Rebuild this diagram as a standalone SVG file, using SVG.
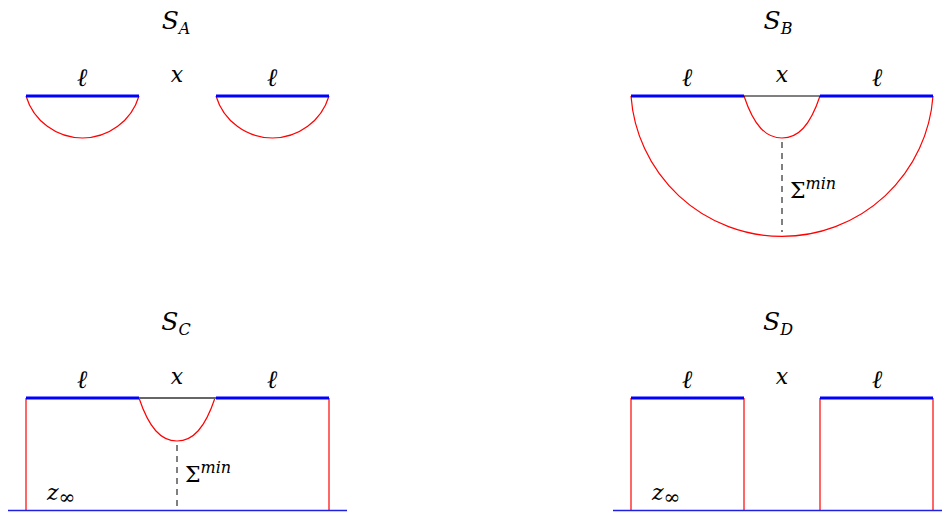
<svg xmlns="http://www.w3.org/2000/svg" width="942" height="512" viewBox="0 0 942 512">
<style>
.t{font-family:"DejaVu Serif","Liberation Serif",serif;font-style:italic;font-size:22px;fill:#000;text-anchor:middle}
.S{font-size:25px}
.s{font-size:16px}
.l{font-size:25px}
.u{font-style:normal}
.b{stroke:#0000ff;stroke-width:3;fill:none}
.r{stroke:#ff0000;stroke-width:1.2;fill:none}
.k{stroke:#000;stroke-width:1;fill:none}
.g{stroke:#666;stroke-width:2;fill:none}
.d{stroke:#000;stroke-width:1;stroke-dasharray:6,5;fill:none}
.bl{stroke:#2020e0;stroke-width:1.4;fill:none}
</style>
<rect width="942" height="512" fill="#fff"/>
<g id="panelA">
<text class="t S" x="176" y="29">S<tspan class="s" dy="5">A</tspan></text>
<text class="t l" x="82" y="86">ℓ</text>
<text class="t" x="177" y="82">x</text>
<text class="t l" x="272" y="86">ℓ</text>
<path class="r" d="M26,96 A59,59 0 0,0 139,96"/>
<path class="r" d="M216,96 A59,59 0 0,0 329,96"/>
<line class="b" x1="26" y1="96" x2="139" y2="96"/>
<line class="b" x1="216" y1="96" x2="329" y2="96"/>
</g>
<g id="panelB">
<text class="t S" x="778" y="29">S<tspan class="s" dy="5">B</tspan></text>
<text class="t l" x="687" y="86">ℓ</text>
<text class="t" x="782" y="82">x</text>
<text class="t l" x="877" y="86">ℓ</text>
<path class="r" d="M631,96 A151.4,151.4 0 0,0 933,96"/>
<path class="r" d="M744,96 C754,126 766,138 782,138 C798,138 810,126 820,96"/>
<line class="k" x1="744" y1="96" x2="820" y2="96"/>
<line class="b" x1="631" y1="96" x2="744" y2="96"/>
<line class="b" x1="820" y1="96" x2="933" y2="96"/>
<line class="d" x1="782" y1="142" x2="782" y2="232"/>
<text class="t u" x="790" y="198" style="text-anchor:start;font-size:22px">Σ<tspan dy="-9" style="font-style:italic;font-size:16px">min</tspan></text>
</g>
<g id="panelC">
<text class="t S" x="176" y="330">S<tspan class="s" dy="5">C</tspan></text>
<text class="t l" x="82" y="388">ℓ</text>
<text class="t" x="177" y="384">x</text>
<text class="t l" x="272" y="388">ℓ</text>
<line class="r" x1="26" y1="398" x2="26" y2="511"/>
<line class="r" x1="329" y1="398" x2="329" y2="511"/>
<path class="r" d="M139,398 C149,428 161,441 177,441 C193,441 205,428 215,398"/>
<line class="g" x1="139" y1="398" x2="216" y2="398"/>
<line class="b" x1="26" y1="398" x2="139" y2="398"/>
<line class="b" x1="216" y1="398" x2="329" y2="398"/>
<line class="d" x1="177" y1="445" x2="177" y2="511"/>
<text class="t u" x="185" y="482" style="text-anchor:start;font-size:22px">Σ<tspan dy="-9" style="font-style:italic;font-size:16px">min</tspan></text>
<text class="t" x="47" y="500" style="text-anchor:start">z<tspan class="u" dy="4" style="font-size:20px">∞</tspan></text>
<line class="bl" x1="8" y1="510.5" x2="347" y2="510.5"/>
</g>
<g id="panelD">
<text class="t S" x="778" y="330">S<tspan class="s" dy="5">D</tspan></text>
<text class="t l" x="687" y="388">ℓ</text>
<text class="t" x="782" y="384">x</text>
<text class="t l" x="877" y="388">ℓ</text>
<line class="r" x1="631" y1="398" x2="631" y2="511"/>
<line class="r" x1="744" y1="398" x2="744" y2="511"/>
<line class="r" x1="820" y1="398" x2="820" y2="511"/>
<line class="r" x1="933" y1="398" x2="933" y2="511"/>
<line class="b" x1="631" y1="398" x2="744" y2="398"/>
<line class="b" x1="820" y1="398" x2="933" y2="398"/>
<text class="t" x="652" y="500" style="text-anchor:start">z<tspan class="u" dy="4" style="font-size:20px">∞</tspan></text>
<line class="bl" x1="613" y1="510.5" x2="942" y2="510.5"/>
</g>
</svg>
